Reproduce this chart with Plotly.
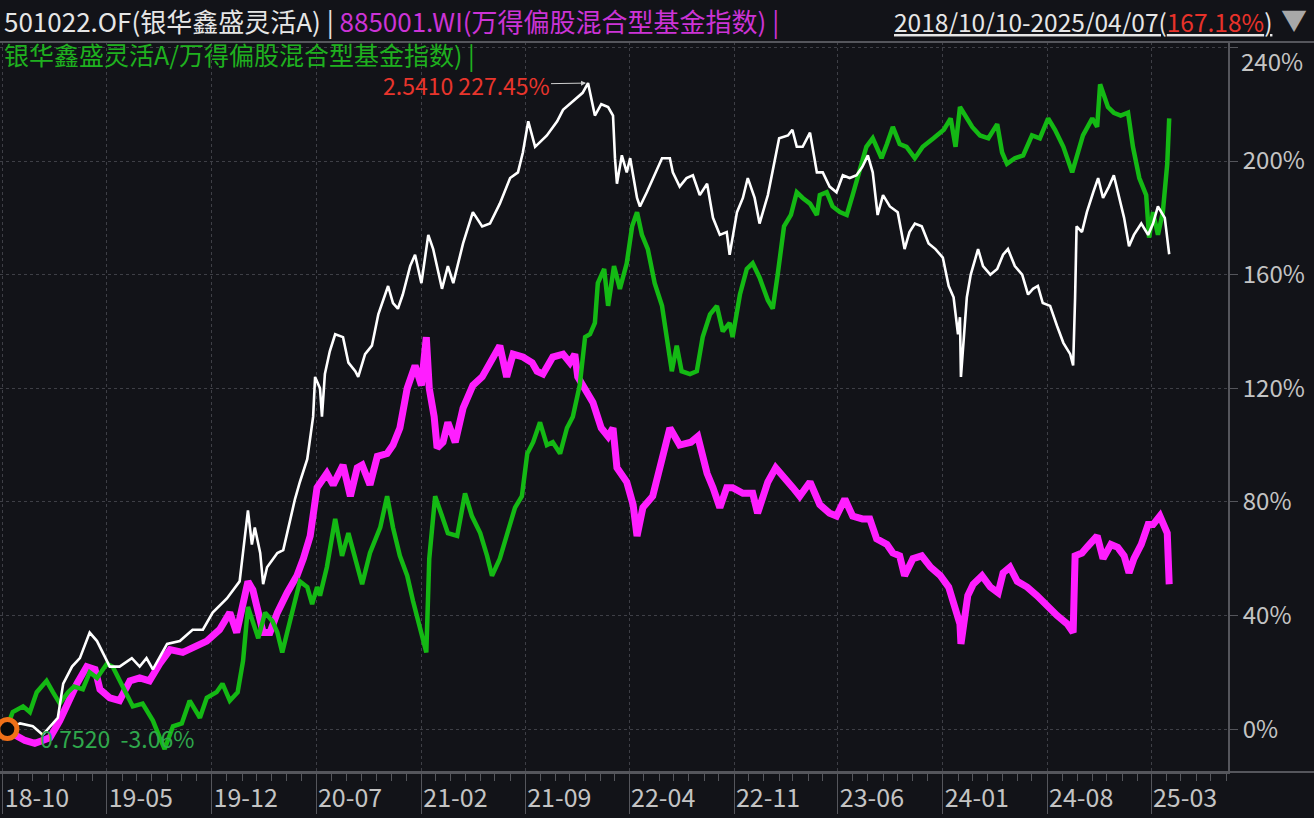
import plotly.graph_objects as go

# ---------------- data (percent change since 2018-10-10) ----------------
fund_dates = [
    "2018-10-10","2018-11-05","2018-12-01","2018-12-21","2019-01-11","2019-01-21","2019-02-01","2019-02-19",
    "2019-03-07","2019-03-27","2019-04-11","2019-04-22","2019-05-07","2019-05-27","2019-06-21","2019-07-07",
    "2019-07-21","2019-08-03","2019-09-01","2019-09-27","2019-10-23","2019-11-13","2019-12-03","2020-01-01",
    "2020-01-27","2020-02-13","2020-02-21","2020-02-27","2020-03-09","2020-03-15","2020-03-23","2020-04-13",
    "2020-04-25","2020-05-03","2020-05-19","2020-05-29","2020-06-13","2020-06-25","2020-06-29","2020-07-09",
    "2020-07-13","2020-07-19","2020-07-29","2020-08-09","2020-08-25","2020-09-05","2020-09-19","2020-09-25",
    "2020-10-09","2020-10-23","2020-11-05","2020-11-25","2020-12-05","2020-12-15","2020-12-25","2021-01-09",
    "2021-01-19","2021-02-01","2021-02-15","2021-02-25","2021-03-05","2021-03-15","2021-03-27","2021-04-07",
    "2021-04-27","2021-05-17","2021-06-05","2021-06-21","2021-07-11","2021-08-01","2021-08-17","2021-08-27",
    "2021-09-07","2021-09-21","2021-10-15","2021-11-05","2021-11-17","2021-12-07","2021-12-27","2022-01-07",
    "2022-01-21","2022-02-03","2022-02-17","2022-02-27","2022-03-03","2022-03-07","2022-03-17","2022-03-27",
    "2022-04-03","2022-04-17","2022-04-23","2022-05-07","2022-05-23","2022-06-07","2022-06-23","2022-06-29",
    "2022-07-13","2022-07-27","2022-08-09","2022-08-23","2022-09-07","2022-09-19","2022-10-03","2022-10-17",
    "2022-10-23","2022-11-07","2022-11-19","2022-11-29","2022-12-13","2022-12-23","2023-01-09","2023-01-21",
    "2023-02-01","2023-02-19","2023-02-28","2023-03-09","2023-03-21","2023-04-05","2023-04-19","2023-05-01",
    "2023-05-15","2023-05-29","2023-06-11","2023-06-25","2023-07-09","2023-07-21","2023-08-01","2023-08-11",
    "2023-08-21","2023-09-01","2023-09-15","2023-10-01","2023-10-15","2023-10-25","2023-11-05","2023-11-19",
    "2023-12-03","2023-12-17","2024-01-01","2024-01-13","2024-01-23","2024-02-01","2024-02-05","2024-02-07",
    "2024-02-19","2024-02-27","2024-03-13","2024-03-23","2024-04-07","2024-04-21","2024-05-03","2024-05-13",
    "2024-05-27","2024-06-11","2024-06-23","2024-07-03","2024-07-13","2024-07-23","2024-08-07","2024-08-21",
    "2024-09-03","2024-09-17","2024-09-23","2024-09-27","2024-09-30","2024-10-11","2024-10-21","2024-11-03",
    "2024-11-13","2024-11-23","2024-12-05","2024-12-15","2024-12-25","2025-01-05","2025-01-15","2025-01-25",
    "2025-02-09","2025-02-23","2025-03-05","2025-03-15","2025-03-29","2025-04-07",
]
fund_values = [
    0, 2, 1, -2, 2, 4, 16, 22,
    25, 34, 31, 27, 22, 22, 25, 22,
    25, 21, 30, 31, 35, 35, 41, 46,
    52, 77, 65, 71, 62, 51, 57, 62,
    63, 69, 81, 87, 95, 110, 124, 120,
    110, 125, 133, 139, 138, 129, 126, 124,
    132, 135, 146, 156, 150, 148, 153, 163,
    167, 157, 174, 169, 163, 155, 163, 157,
    171, 182, 177, 178, 185, 194, 196, 203,
    214, 205, 209, 214, 218, 221, 224, 227.45,
    216, 220, 219, 216, 201, 192, 202, 196,
    201, 187, 184, 189, 195, 201, 201, 196,
    191, 194, 195, 188, 192, 180, 174, 175,
    167, 182, 187, 194, 187, 178, 188, 199,
    208, 209, 211, 205, 205, 210, 196, 196,
    191, 189, 195, 194, 195, 198, 202, 196,
    181, 188, 184, 182, 169, 175, 178, 177,
    171, 169, 166, 156, 152, 139, 145, 124,
    152, 160, 169, 163, 160, 162, 167, 169,
    163, 160, 153, 155, 156, 150, 149, 142,
    136, 132, 128, 152, 177, 175, 182, 189,
    194, 187, 191, 195, 188, 180, 170, 174,
    178, 174, 178, 184, 180, 167.18,
]

index_dates = [
    "2018-10-10","2018-10-25","2018-11-15","2018-12-05","2018-12-21","2019-01-05","2019-01-25","2019-02-11",
    "2019-03-01","2019-03-21","2019-04-07","2019-04-17","2019-05-07","2019-05-27","2019-06-17","2019-07-07",
    "2019-07-27","2019-08-17","2019-09-07","2019-10-03","2019-11-01","2019-11-21","2019-12-17","2020-01-07",
    "2020-01-21","2020-02-03","2020-02-13","2020-02-23","2020-03-05","2020-03-15","2020-03-29","2020-04-13",
    "2020-05-03","2020-05-23","2020-06-05","2020-06-19","2020-07-03","2020-07-23","2020-08-05","2020-08-25",
    "2020-09-09","2020-09-23","2020-10-03","2020-10-19","2020-11-03","2020-11-23","2020-12-05","2020-12-19",
    "2021-01-03","2021-01-19","2021-02-01","2021-02-11","2021-02-17","2021-02-27","2021-03-05","2021-03-17",
    "2021-03-27","2021-04-11","2021-04-27","2021-05-17","2021-06-05","2021-06-21","2021-07-11","2021-07-25",
    "2021-08-07","2021-08-27","2021-09-15","2021-09-25","2021-10-07","2021-10-27","2021-11-17","2021-12-01",
    "2021-12-11","2021-12-17","2022-01-05","2022-01-17","2022-02-03","2022-02-17","2022-02-27","2022-03-07",
    "2022-03-27","2022-04-09","2022-04-17","2022-04-29","2022-05-19","2022-06-05","2022-06-23","2022-07-13",
    "2022-08-05","2022-08-19","2022-09-07","2022-09-19","2022-10-03","2022-10-17","2022-10-29","2022-11-19",
    "2022-12-09","2022-12-19","2023-01-09","2023-01-25","2023-02-11","2023-03-01","2023-03-15","2023-04-05",
    "2023-04-25","2023-05-15","2023-05-29","2023-06-15","2023-07-01","2023-07-21","2023-08-05","2023-08-19",
    "2023-09-09","2023-09-21","2023-10-05","2023-10-15","2023-11-01","2023-11-19","2023-12-07","2023-12-27",
    "2024-01-13","2024-01-27","2024-02-05","2024-02-07","2024-02-21","2024-03-03","2024-03-21","2024-04-07",
    "2024-04-23","2024-05-03","2024-05-17","2024-06-01","2024-06-21","2024-07-11","2024-08-01","2024-08-21",
    "2024-09-11","2024-09-23","2024-09-27","2024-10-11","2024-10-21","2024-11-11","2024-11-23","2024-12-09",
    "2024-12-23","2025-01-05","2025-01-15","2025-01-25","2025-02-09","2025-02-23","2025-03-05","2025-03-19",
    "2025-04-03","2025-04-07",
]
index_values = [
    0, -2, -4, -5, -4, -3, 3, 10,
    16, 22, 21, 14, 11, 10, 17, 18,
    17, 23, 28, 27, 29, 31, 35, 41,
    34, 43, 52, 49, 42, 34, 34, 41,
    48, 54, 60, 68, 85, 90, 86, 93,
    82, 92, 93, 86, 96, 97, 100, 106,
    120, 128, 121, 138, 120, 110, 99, 101,
    108, 101, 113, 121, 124, 129, 135, 124,
    132, 131, 129, 126, 125, 131, 132, 129,
    132, 124, 118, 115, 106, 103, 106, 92,
    87, 79, 68, 78, 82, 93, 106, 100,
    101, 103, 90, 85, 78, 85, 85, 83,
    83, 76, 87, 92, 89, 85, 82, 87,
    79, 76, 75, 81, 75, 74, 74, 67,
    65, 62, 61, 54, 60, 61, 57, 54,
    50, 43, 37, 30, 47, 51, 54, 50,
    48, 55, 57, 52, 50, 47, 43, 40,
    37, 34, 61, 62, 64, 68, 60, 65,
    64, 61, 55, 60, 65, 72, 72, 75,
    69, 51,
]

ratio_dates = [
    "2018-10-10","2018-10-21","2018-11-11","2018-11-25","2018-12-09","2018-12-29","2019-01-11","2019-01-25",
    "2019-02-11","2019-02-23","2019-03-13","2019-03-27","2019-04-11","2019-05-01","2019-05-13","2019-06-03",
    "2019-06-23","2019-07-13","2019-08-03","2019-08-17","2019-08-27","2019-09-13","2019-10-01","2019-10-17",
    "2019-11-07","2019-11-21","2019-12-11","2019-12-23","2020-01-07","2020-01-23","2020-02-03","2020-02-13",
    "2020-02-23","2020-03-05","2020-03-19","2020-04-03","2020-04-13","2020-04-23","2020-05-03","2020-05-15",
    "2020-05-29","2020-06-13","2020-06-23","2020-07-03","2020-07-09","2020-07-23","2020-08-09","2020-08-23",
    "2020-09-05","2020-09-19","2020-10-03","2020-10-19","2020-11-09","2020-11-23","2020-12-05","2020-12-19",
    "2021-01-03","2021-01-15","2021-02-01","2021-02-11","2021-02-17","2021-03-01","2021-03-15","2021-03-27",
    "2021-04-15","2021-05-01","2021-05-15","2021-06-01","2021-06-15","2021-06-25","2021-07-11","2021-07-25",
    "2021-08-11","2021-08-25","2021-09-05","2021-09-17","2021-10-01","2021-10-15","2021-10-27","2021-11-11",
    "2021-11-25","2021-12-07","2021-12-21","2022-01-01","2022-01-11","2022-01-21","2022-01-27","2022-02-09",
    "2022-02-17","2022-03-01","2022-03-13","2022-03-27","2022-04-07","2022-04-17","2022-04-27","2022-05-09",
    "2022-05-23","2022-06-07","2022-06-17","2022-06-27","2022-07-07","2022-07-17","2022-08-03","2022-08-17",
    "2022-08-29","2022-09-13","2022-09-27","2022-10-09","2022-10-23","2022-10-29","2022-11-13","2022-11-27",
    "2022-12-09","2022-12-23","2023-01-09","2023-01-19","2023-01-29","2023-02-11","2023-02-25","2023-03-09",
    "2023-03-21","2023-04-05","2023-04-19","2023-04-25","2023-05-09","2023-05-21","2023-06-05","2023-06-19",
    "2023-07-01","2023-07-15","2023-07-29","2023-08-11","2023-08-29","2023-09-09","2023-09-21","2023-10-05",
    "2023-10-19","2023-11-05","2023-11-21","2023-12-13","2024-01-03","2024-01-17","2024-01-27","2024-02-05",
    "2024-02-19","2024-03-01","2024-03-17","2024-04-03","2024-04-21","2024-05-01","2024-05-11","2024-05-27",
    "2024-06-13","2024-07-01","2024-07-17","2024-08-03","2024-08-17","2024-09-03","2024-09-21","2024-09-30",
    "2024-10-13","2024-11-01","2024-11-11","2024-11-17","2024-12-03","2024-12-15","2024-12-29","2025-01-13",
    "2025-01-23","2025-02-05","2025-02-19","2025-02-25","2025-03-05","2025-03-15","2025-03-25","2025-04-03",
    "2025-04-07",
]
ratio_values = [
    1, 6, 8, 6, 13, 17, 13, 9,
    13, 15, 14, 20, 18, 23, 22, 15,
    8, 9, 3, -3, -7, 1, 2, 10,
    4, 11, 13, 16, 10, 13, 24, 43,
    38, 32, 41, 38, 34, 27, 34, 43,
    52, 50, 44, 50, 47, 57, 74, 61,
    69, 60, 51, 62, 71, 82, 71, 61,
    54, 45, 34, 27, 60, 82, 75, 69,
    68, 83, 75, 69, 61, 54, 60, 68,
    78, 82, 97, 101, 108, 100, 101, 97,
    106, 110, 121, 138, 139, 143, 157, 162,
    149, 163, 155, 164, 177, 182, 174, 169,
    157, 149, 138, 126, 135, 126, 125, 126,
    138, 146, 149, 140, 143, 138, 153, 162,
    164, 159, 151, 148, 160, 177, 181, 189,
    187, 185, 181, 188, 189, 184, 182, 181,
    188, 196, 205, 208, 201, 206, 212, 206,
    205, 201, 205, 208, 211, 215, 205, 219,
    215, 212, 209, 208, 213, 203, 199, 201,
    202, 209, 208, 215, 211, 205, 196, 201,
    209, 215, 212, 227, 219, 217, 216, 217,
    205, 194, 188, 173, 182, 174, 182, 199,
    215,
]

y_ticks = [0, 40, 80, 120, 160, 200, 240]
y_tick_labels = ["0%", "40%", "80%", "120%", "160%", "200%", ""]
top_tick_label = "240%"

peak_date, peak_value = "2022-01-07", 227.45
start_date, start_value = "2018-10-10", 0

# ---------------- styling ----------------
BG = "#121318"
GRID = "#3e3f46"
AXIS = "#55565c"
TICKFONT = "#c4c4c4"
FONT = "Noto Sans CJK SC, Noto Sans, sans-serif"

fig = go.Figure()
fig.add_trace(go.Scatter(x=index_dates, y=index_values, mode="lines",
                         line=dict(color="#ff1eff", width=7), name="885001.WI"))
fig.add_trace(go.Scatter(x=ratio_dates, y=ratio_values, mode="lines",
                         line=dict(color="#14b914", width=4.5), name="ratio"))
fig.add_trace(go.Scatter(x=fund_dates, y=fund_values, mode="lines",
                         line=dict(color="#ffffff", width=2.6), name="501022.OF"))
fig.add_trace(go.Scatter(x=[start_date], y=[start_value], mode="markers",
                         marker=dict(symbol="circle", size=19, color="#0a0a0a",
                                     line=dict(color="#f07018", width=5)),
                         showlegend=False))

plot_w = 1228
plot_h = 730

fig.update_layout(
    width=1314, height=818,
    margin=dict(l=0, r=86, t=42, b=46),
    paper_bgcolor=BG, plot_bgcolor=BG,
    showlegend=False,
    font=dict(family=FONT, color=TICKFONT),
    xaxis=dict(
        type="date",
        range=["2018-09-25", "2025-08-05"],
        tick0="2018-10-01", dtick="M7",
        tickformat="%y-%m",
        ticks="outside", ticklen=40, tickcolor=AXIS, tickwidth=1,
        ticklabelstandoff=-37, ticklabelshift=34,
        tickfont=dict(size=25, color=TICKFONT, family=FONT),
        showgrid=True, gridcolor=GRID, griddash="dot", gridwidth=1,
        minor=dict(dtick="M1", tick0="2018-10-01", ticks="outside", ticklen=7,
                   tickcolor=AXIS, showgrid=False),
        showline=True, linecolor=AXIS, linewidth=2,
        zeroline=False, fixedrange=True,
    ),
    yaxis=dict(
        side="right",
        range=[-15.1, 241.9],
        tickvals=y_ticks, ticktext=y_tick_labels,
        ticks="outside", ticklen=8, tickcolor=AXIS,
        tickfont=dict(size=24, color=TICKFONT, family=FONT),
        showgrid=True, gridcolor=GRID, griddash="dot", gridwidth=1,
        showline=True, linecolor=AXIS, linewidth=2,
        zeroline=False, fixedrange=True,
    ),
)

# frame lines extending across the full width
fig.add_shape(type="line", xref="paper", yref="paper", x0=0, x1=1314 / plot_w, y0=1, y1=1,
              line=dict(color=AXIS, width=2))
fig.add_shape(type="line", xref="paper", yref="paper", x0=0, x1=1314 / plot_w, y0=0, y1=0,
              line=dict(color=AXIS, width=2))


def py(ypx):
    return 1 + (42 - ypx) / plot_h


def px(xpx):
    return xpx / plot_w


# top y tick label sits just below its tick, as in the reference
fig.add_annotation(xref="paper", yref="paper", x=px(1239), y=py(61), xanchor="left", yanchor="middle",
                   showarrow=False, text=top_tick_label,
                   font=dict(size=24, family=FONT, color=TICKFONT))

# header row 1
fig.add_annotation(xref="paper", yref="paper", x=px(2), y=py(21), xanchor="left", yanchor="middle",
                   showarrow=False, align="left",
                   text="<span style='color:#e6e6e6'>501022.OF(银华鑫盛灵活A) | </span>"
                        "<span style='color:#cc33d6'>885001.WI(万得偏股混合型基金指数) |</span>",
                   font=dict(size=26, family=FONT))
# header row 2
fig.add_annotation(xref="paper", yref="paper", x=px(2), y=py(54), xanchor="left", yanchor="middle",
                   showarrow=False, align="left",
                   text="银华鑫盛灵活A/万得偏股混合型基金指数) |",
                   font=dict(size=25, family=FONT, color="#1fb01f"))
# date range
fig.add_annotation(xref="paper", yref="paper", x=px(1274), y=py(21), xanchor="right", yanchor="middle",
                   showarrow=False,
                   text="2018/10/10-2025/04/07(<span style='color:#e8322a'>167.18%</span>)",
                   font=dict(size=24.5, family=FONT, color="#e6e6e6", lineposition="under"))
fig.add_annotation(xref="paper", yref="paper", x=px(1294), y=py(19), xanchor="center", yanchor="middle",
                   showarrow=False, text="▼", font=dict(size=26, family=FONT, color="#a8a8a8"))

# peak label
fig.add_annotation(x=peak_date, y=peak_value, xref="x", yref="y",
                   text="2.5410 227.45%", showarrow=True, arrowhead=2, arrowsize=1, arrowwidth=1,
                   arrowcolor="#cfcfcf", ax=-122, ay=2, standoff=2,
                   font=dict(size=23, family=FONT, color="#e8352c"))
# start label
fig.add_annotation(xref="paper", yref="y", x=px(38), y=-3.2, xanchor="left", yanchor="middle",
                   showarrow=False, text="0.7520  -3.06%",
                   font=dict(size=23, family=FONT, color="#2fa84c"))

fig.write_html("out.html", config={"displayModeBar": False},
               post_script="document.body.style.margin='0px';document.body.style.overflow='hidden';")
